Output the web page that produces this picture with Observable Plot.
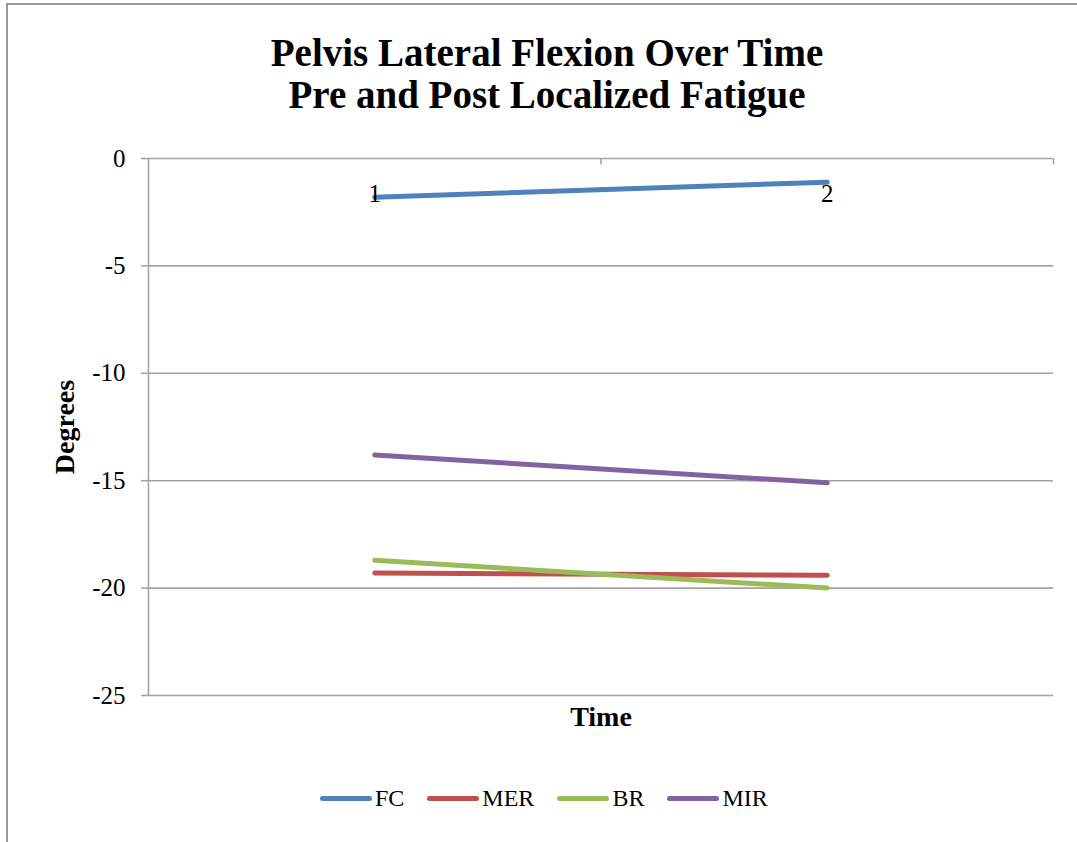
<!DOCTYPE html>
<html>
<head>
<meta charset="utf-8">
<script src="https://cdn.jsdelivr.net/npm/d3@7"></script>
<script src="https://cdn.jsdelivr.net/npm/@observablehq/plot@0.6"></script>
<style>
  html, body { margin: 0; padding: 0; background: #fff; }
  #chart { position: relative; width: 1077px; height: 842px; overflow: hidden; font-family: "Liberation Serif", "DejaVu Serif", serif; }
  #frame { position: absolute; left: 6px; top: 3px; width: 1200px; height: 900px; border-left: 2px solid #9a9a9a; border-top: 2px solid #9a9a9a; }
  #title { position: absolute; left: 0; top: 32px; width: 1094px; text-align: center; font-weight: bold; font-size: 39px; line-height: 42px; color: #000; }
  #plot { position: absolute; left: 0; top: 140px; }
  #legend { position: absolute; top: 785px; left: 320px; display: flex; align-items: center; font-size: 24px; color: #000; }
  .item { display: flex; align-items: center; margin-right: 23px; }
  .swatch { width: 52px; height: 5px; border-radius: 3px; margin-right: 3px; }
  #plot svg text { font-family: "Liberation Serif", "DejaVu Serif", serif; }
</style>
</head>
<body>
<div id="chart">
  <div id="frame"></div>
  <div id="title">Pelvis Lateral Flexion Over Time<br>Pre and Post Localized Fatigue</div>
  <div id="plot"></div>
  <div id="legend"></div>
</div>
<script>
// Time points and mean pelvis lateral flexion (degrees) per condition
const times = [1, 2];
const seriesNames = ["FC", "MER", "BR", "MIR"];
const seriesColors = ["#4F81BD", "#C0504D", "#9BBB59", "#8064A2"];
const fcValues = [-1.8, -1.1];
const merValues = [-19.3, -19.4];
const brValues = [-18.7, -20.0];
const mirValues = [-13.8, -15.1];
const yTicks = [0, -5, -10, -15, -20, -25];
const categoryTicks = [0.5, 1.5, 2.5];

const valuesBySeries = [fcValues, merValues, brValues, mirValues];
const rows = seriesNames.flatMap((name, i) =>
  times.map((t, j) => ({series: name, time: t, value: valuesBySeries[i][j]}))
);

const grid = "#a3a3a3";
const font = "Liberation Serif, DejaVu Serif, serif";

const chart = Plot.plot({
  width: 1077,
  height: 595,
  marginLeft: 148,
  marginRight: 24,
  marginTop: 18,
  marginBottom: 40,
  style: {fontFamily: font, fontSize: "25px", color: "#000", background: "transparent"},
  x: {type: "linear", domain: [0.5, 2.5], axis: null},
  y: {domain: [-25, 0], ticks: yTicks},
  color: {domain: seriesNames, range: seriesColors},
  marks: [
    Plot.gridY(yTicks, {stroke: grid, strokeOpacity: 1, strokeWidth: 1.6}),
    Plot.axisY(yTicks, {tickSize: 7, tickPadding: 16, stroke: grid, strokeWidth: 1.6, label: null, fontSize: 25, fontFamily: font, tickFormat: d => d === 0 ? "0" : "-" + Math.abs(d)}),
    Plot.ruleX([0.5], {y1: -25, y2: 0, stroke: grid, strokeWidth: 1.6}),
    Plot.ruleX(categoryTicks.slice(1), {y1: 0, y2: -0.3, stroke: grid, strokeWidth: 1.6}),
    Plot.line(rows, {x: "time", y: "value", z: "series", stroke: "series", strokeWidth: 5, strokeLinecap: "round"}),
    Plot.text(times, {x: d => d, frameAnchor: "top", dy: 35, text: d => String(d), fontSize: 25, fontFamily: font, lineAnchor: "middle", fill: "#000"}),
    Plot.text(["Degrees"], {frameAnchor: "left", dx: -83, rotate: -90, textAnchor: "middle", lineAnchor: "middle", fontSize: 28, fontFamily: font, fontWeight: "bold", fill: "#000"}),
    Plot.text(["Time"], {frameAnchor: "bottom", dy: 22, lineAnchor: "middle", fontSize: 28, fontFamily: font, fontWeight: "bold", fill: "#000"})
  ]
});
document.getElementById("plot").appendChild(chart);

// Legend built from the same series names and colours
const legend = document.getElementById("legend");
seriesNames.forEach((name, i) => {
  const item = document.createElement("div");
  item.className = "item";
  const sw = document.createElement("div");
  sw.className = "swatch";
  sw.style.background = seriesColors[i];
  const label = document.createElement("span");
  label.textContent = name;
  item.appendChild(sw);
  item.appendChild(label);
  legend.appendChild(item);
});
</script>
</body>
</html>
